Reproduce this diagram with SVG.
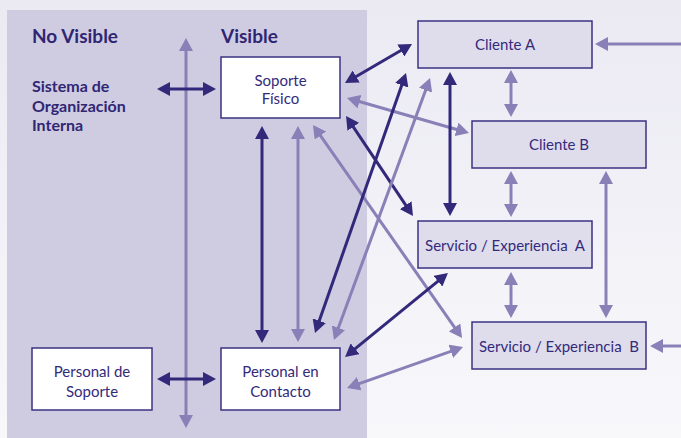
<svg xmlns="http://www.w3.org/2000/svg" width="681" height="438" viewBox="0 0 681 438">
  <defs>
    <linearGradient id="bg" x1="0" y1="0" x2="0" y2="1">
      <stop offset="0" stop-color="#ebeaf3"/>
      <stop offset="1" stop-color="#f8f8fb"/>
    </linearGradient>
    <marker id="hd" markerUnits="userSpaceOnUse" markerWidth="14" markerHeight="14" refX="3" refY="7" orient="auto-start-reverse" viewBox="0 0 14 14">
      <path d="M0,0 L13,7 L0,14 z" fill="#33297a"/>
    </marker>
    <marker id="hl" markerUnits="userSpaceOnUse" markerWidth="14" markerHeight="14" refX="3" refY="7" orient="auto-start-reverse" viewBox="0 0 14 14">
      <path d="M0,0 L13,7 L0,14 z" fill="#8a80b8"/>
    </marker>
    <style>
      .inner rect { fill: #ffffff; stroke: #3b3283; stroke-width: 1.5; }
      .outer rect { fill: #dfddec; stroke: #3b3283; stroke-width: 1.5; }
      .lbl { font-family: Lato, "Liberation Sans", sans-serif; font-size: 15px; fill: #342a7c; text-anchor: middle; }
      .head { font-family: Lato, "Liberation Sans", sans-serif; font-weight: bold; fill: #2f2673; }
      .d { stroke: #33297a; stroke-width: 3; fill: none; marker-start: url(#hd); marker-end: url(#hd); }
      .l { stroke: #8a80b8; stroke-width: 3; fill: none; marker-start: url(#hl); marker-end: url(#hl); }
      .l1 { stroke: #8a80b8; stroke-width: 3; fill: none; marker-end: url(#hl); }
    </style>
  </defs>

  <!-- page background and the internal (left) zone -->
  <rect x="0" y="0" width="681" height="438" fill="url(#bg)"/>
  <rect x="7" y="10" width="360" height="428" fill="#cfcce2"/>

  <!-- headings -->
  <g id="headings">
    <text class="head" x="32" y="43" font-size="19">No Visible</text>
    <text class="head" x="221" y="43" font-size="19">Visible</text>
  </g>

  <g id="sistema">
    <text class="head" font-size="16"><tspan x="32" y="92">Sistema de</tspan><tspan x="32" y="112">Organización</tspan><tspan x="32" y="131">Interna</tspan></text>
  </g>

  <!-- connectors -->
  <g id="connectors">
    <line class="l" x1="186" y1="48" x2="186" y2="418"/>
    <line class="d" x1="167" y1="89" x2="206" y2="89"/>
    <line class="d" x1="167" y1="379" x2="206" y2="379"/>
    <line class="d" x1="262" y1="136" x2="262" y2="333"/>
    <line class="l" x1="298" y1="136" x2="298" y2="332"/>
    <line class="l" x1="318.7" y1="133.2" x2="456.3" y2="329.8"/>
    <line class="d" x1="351.6" y1="124.3" x2="407.4" y2="207.7"/>
    <line class="d" x1="353.6" y1="78" x2="403.4" y2="49"/>
    <line class="l" x1="356.6" y1="100.8" x2="459.4" y2="130.2"/>
    <line class="d" x1="450" y1="82" x2="450" y2="206"/>
    <line class="l" x1="511" y1="80" x2="511" y2="107"/>
    <line class="l" x1="511" y1="181" x2="511" y2="207"/>
    <line class="l" x1="606" y1="181" x2="606" y2="308"/>
    <line class="l" x1="511" y1="282" x2="511" y2="308"/>
    <line class="l1" x1="681" y1="44" x2="605" y2="44"/>
    <line class="l1" x1="681" y1="346" x2="660" y2="346"/>
    <line class="d" x1="318.3" y1="323.6" x2="402.7" y2="82.4"/>
    <line class="l" x1="337.4" y1="330.6" x2="426.6" y2="87.4"/>
    <line class="d" x1="352.8" y1="350.7" x2="440.2" y2="279.3"/>
    <line class="l" x1="356.4" y1="384.7" x2="453.6" y2="350.3"/>
  </g>

  <!-- nodes -->
  <g id="soporte-fisico" class="inner">
    <rect x="221" y="57" width="119" height="61"/>
    <text class="lbl"><tspan x="280.5" y="86">Soporte</tspan><tspan x="280.5" y="104">Físico</tspan></text>
  </g>
  <g id="personal-soporte" class="inner">
    <rect x="32" y="348" width="120" height="62"/>
    <text class="lbl"><tspan x="92" y="377">Personal de</tspan><tspan x="92" y="397">Soporte</tspan></text>
  </g>
  <g id="personal-contacto" class="inner">
    <rect x="221" y="348" width="119" height="62"/>
    <text class="lbl"><tspan x="280.5" y="377">Personal en</tspan><tspan x="280.5" y="397">Contacto</tspan></text>
  </g>
  <g id="cliente-a" class="outer">
    <rect x="418" y="21" width="174" height="47"/>
    <text class="lbl" x="505" y="50">Cliente A</text>
  </g>
  <g id="cliente-b" class="outer">
    <rect x="472" y="121" width="174" height="47"/>
    <text class="lbl" x="559" y="150">Cliente B</text>
  </g>
  <g id="servicio-a" class="outer">
    <rect x="418" y="221" width="174" height="47"/>
    <text class="lbl" x="505" y="251" xml:space="preserve">Servicio / Experiencia  A</text>
  </g>
  <g id="servicio-b" class="outer">
    <rect x="472" y="322" width="174" height="47"/>
    <text class="lbl" x="559" y="352" xml:space="preserve">Servicio / Experiencia  B</text>
  </g>
</svg>
